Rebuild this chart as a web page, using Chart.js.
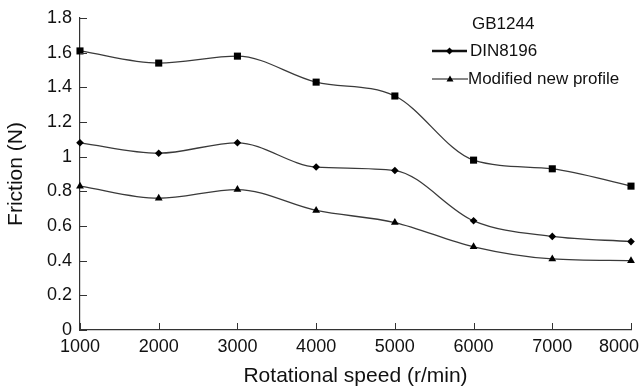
<!DOCTYPE html>
<html lang="en">
<head>
  <meta charset="UTF-8" />
  <title>Friction vs Rotational speed</title>
  <script src="https://cdn.jsdelivr.net/npm/chart.js"></script>
  <style>
    body { margin: 0; background: #fff; }
    .wrap { width: 641px; height: 389px; }
  </style>
</head>
<body>
  <div class="wrap"><canvas id="fChart"></canvas></div>
  <script>
    const speeds = [1000, 2000, 3000, 4000, 5000, 6000, 7000, 8000];
    const gb1244 = [1.61, 1.54, 1.58, 1.43, 1.35, 0.98, 0.93, 0.83];
    const din8196 = [1.08, 1.02, 1.08, 0.94, 0.92, 0.63, 0.54, 0.51];
    const modified = [0.83, 0.76, 0.81, 0.69, 0.62, 0.48, 0.41, 0.40];
    const seriesNames = ['GB1244', 'DIN8196', 'Modified new profile'];

    const toPts = arr => arr.map((v, i) => ({ x: speeds[i], y: v }));
    const ink = '#111';
    const font = '"Liberation Sans", Arial, sans-serif';

    // inward tick marks, x tick labels and the legend
    const extras = {
      id: 'extras',
      afterDraw(chart) {
        const c = chart.ctx;
        const xs = chart.scales.x, ys = chart.scales.y;
        c.save();
        c.strokeStyle = '#333';
        c.lineWidth = 1;
        c.beginPath();
        ys.ticks.forEach(t => {
          const py = Math.round(ys.getPixelForValue(t.value)) + 0.5;
          c.moveTo(xs.left, py); c.lineTo(xs.left + 7, py);
        });
        xs.ticks.forEach(t => {
          const px = Math.round(xs.getPixelForValue(t.value)) + 0.5;
          c.moveTo(px, ys.bottom); c.lineTo(px, ys.bottom - 7);
        });
        c.stroke();

        // x tick labels, last one kept inside the canvas
        c.fillStyle = ink;
        c.font = '18px ' + font;
        c.textBaseline = 'top';
        c.textAlign = 'left';
        xs.ticks.forEach(t => {
          const s = String(t.value);
          const w = c.measureText(s).width;
          let x0 = xs.getPixelForValue(t.value) - w / 2;
          if (x0 + w > chart.width - 2) x0 = chart.width - 2 - w;
          c.fillText(s, x0, 338);
        });

        // legend
        c.textBaseline = 'middle';
        c.font = '17px ' + font;
        c.fillText(seriesNames[0], 472, 24);
        c.fillText(seriesNames[1], 470, 51);
        c.fillText(seriesNames[2], 468, 79);
        c.strokeStyle = '#111';
        c.lineWidth = 2.4;
        c.beginPath(); c.moveTo(432, 51); c.lineTo(467, 51); c.stroke();
        c.fillStyle = '#000';
        c.beginPath();
        c.moveTo(449.5, 47.5); c.lineTo(453, 51); c.lineTo(449.5, 54.5); c.lineTo(446, 51);
        c.closePath(); c.fill();
        c.lineWidth = 1.2;
        c.beginPath(); c.moveTo(432, 79); c.lineTo(468, 79); c.stroke();
        c.beginPath();
        c.moveTo(450, 75.5); c.lineTo(453.5, 81.5); c.lineTo(446.5, 81.5);
        c.closePath(); c.fill();
        c.restore();
      }
    };

    const ds = (label, data, style, r) => ({
      label: label,
      data: toPts(data),
      borderColor: '#3a3a3a',
      borderWidth: 1.3,
      pointStyle: style,
      pointRadius: r,
      pointBackgroundColor: '#000',
      pointBorderColor: '#000',
      pointBorderWidth: 0,
      tension: 0.4,
      cubicInterpolationMode: 'monotone',
      clip: false
    });

    new Chart(document.getElementById('fChart'), {
      type: 'line',
      data: {
        datasets: [
          ds(seriesNames[0], gb1244, 'rect', 5),
          ds(seriesNames[1], din8196, 'rectRot', 3.8),
          ds(seriesNames[2], modified, 'triangle', 4.5)
        ]
      },
      options: {
        responsive: true,
        maintainAspectRatio: false,
        animation: false,
        layout: { padding: { top: 18, right: 10, left: 0, bottom: 0 } },
        plugins: {
          legend: { display: false },
          tooltip: { enabled: false }
        },
        scales: {
          x: {
            type: 'linear',
            min: 1000,
            max: 8000,
            ticks: { stepSize: 1000, display: false },
            grid: { display: false, drawTicks: false },
            border: { display: true, color: '#333', width: 1.2 },
            title: { display: true, text: 'Rotational speed (r/min)', color: ink, font: { size: 21, family: font }, padding: { top: 0, bottom: 0 } },
            afterFit: s => { s.height = 59; s.paddingLeft = 0; s.paddingRight = 0; }
          },
          y: {
            min: 0,
            max: 1.8,
            ticks: {
              stepSize: 0.2,
              color: ink,
              font: { size: 18, family: font },
              padding: 8,
              callback: v => String(Math.round(v * 10) / 10)
            },
            grid: { display: false, drawTicks: false },
            border: { display: true, color: '#333', width: 1.2 },
            title: { display: true, text: 'Friction (N)', color: ink, font: { size: 21, family: font }, padding: { top: 4, bottom: 0 } },
            afterFit: s => { s.width = 80; s.paddingTop = 0; s.paddingBottom = 0; }
          }
        }
      },
      plugins: [extras]
    });
  </script>
</body>
</html>
